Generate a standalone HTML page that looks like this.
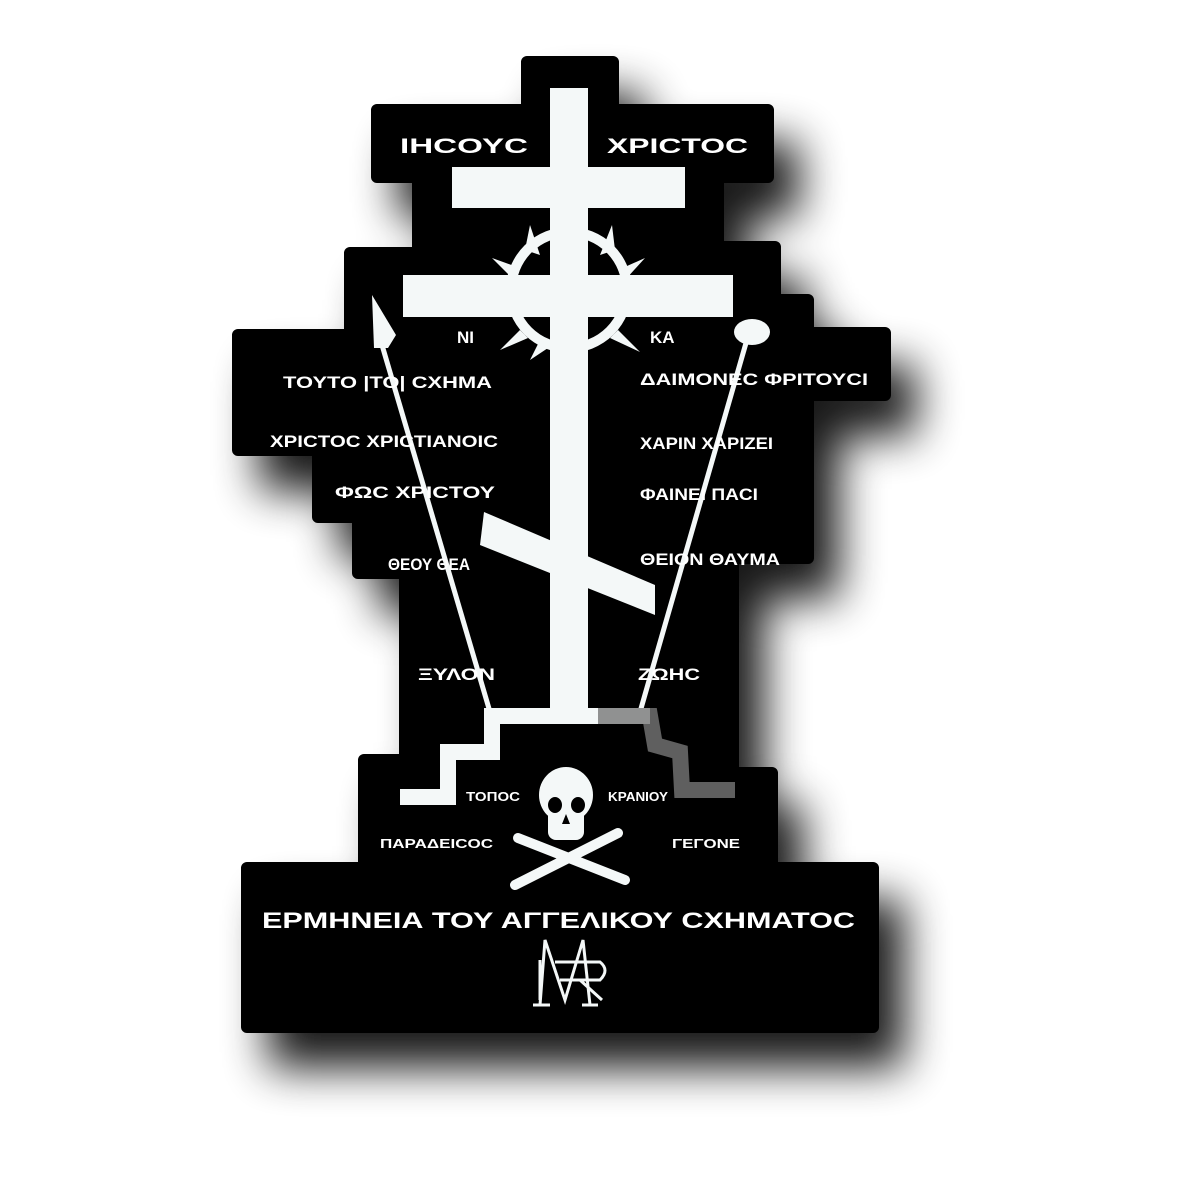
<!DOCTYPE html>
<html><head><meta charset="utf-8"><style>
html,body{margin:0;padding:0;background:#fff;}
svg{display:block}
text{font-family:"Liberation Sans","DejaVu Sans",sans-serif;fill:#fff;font-weight:bold;}
</style></head><body>
<svg width="1200" height="1200" viewBox="0 0 1200 1200" xmlns="http://www.w3.org/2000/svg">
<defs>
<filter id="sh" x="-30%" y="-30%" width="160%" height="160%">
<feGaussianBlur stdDeviation="22"/>
</filter>
<path id="shape" d="M527,62 H613 V110 H768 V177 H718 V247 H775 V300 H808 V333 H885 V395 H808 V558 H733 V773 H772 V868 H873 V1027 H247 V868 H364 V760 H405 V573 H358 V517 H318 V450 H238 V335 H350 V253 H418 V177 H377 V110 H527 Z"/>
</defs>
<g transform="translate(26,36)" filter="url(#sh)" opacity="0.9">
<use href="#shape" fill="#000" stroke="#000" stroke-width="10" stroke-linejoin="round"/>
</g>
<use href="#shape" fill="#000" stroke="#000" stroke-width="12" stroke-linejoin="round"/>

<!-- cross -->
<g fill="#f4f8f8">
<rect x="550" y="88" width="38" height="624"/>
<rect x="452" y="167" width="233" height="41"/>
<rect x="403" y="275" width="330" height="42"/>
<polygon points="484,512 655,585 655,615 480,545"/>
</g>
<!-- crown of thorns -->
<g stroke="#f4f8f8" fill="none" stroke-width="10">
<circle cx="569" cy="290" r="58"/>
</g>
<g fill="#f4f8f8">
<polygon points="530,225 540,255 525,250"/>
<polygon points="612,225 600,255 615,250"/>
<polygon points="492,258 520,268 512,278"/>
<polygon points="645,258 618,270 625,280"/>
<polygon points="500,350 520,330 528,338"/>
<polygon points="640,352 618,330 610,338"/>
<polygon points="530,360 540,340 548,348"/>
</g>
<!-- spear and sponge -->
<polygon points="372,295 396,335 388,348 374,348" fill="#f4f8f8"/>
<line x1="382" y1="345" x2="490" y2="712" stroke="#f4f8f8" stroke-width="5"/>
<ellipse cx="752" cy="332" rx="18" ry="13" fill="#f4f8f8"/>
<line x1="746" y1="343" x2="640" y2="712" stroke="#f4f8f8" stroke-width="5"/>
<!-- steps -->
<polyline points="650,716 492,716 492,752 448,752 448,797 400,797" fill="none" stroke="#f4f8f8" stroke-width="16"/>
<polyline points="598,716 650,716 655,745 680,752 682,790 735,790" fill="none" stroke="#777" stroke-width="16" opacity="0.8"/>

<!-- skull -->
<g fill="#f4f8f8">
<ellipse cx="566" cy="795" rx="27" ry="28"/>
<rect x="548" y="808" width="36" height="32" rx="8"/>
<line x1="515" y1="885" x2="618" y2="833" stroke="#f4f8f8" stroke-width="10" stroke-linecap="round"/>
<line x1="518" y1="838" x2="625" y2="880" stroke="#f4f8f8" stroke-width="10" stroke-linecap="round"/>
</g>
<g fill="#000">
<ellipse cx="555" cy="805" rx="7" ry="8"/>
<ellipse cx="578" cy="805" rx="7" ry="8"/>
<polygon points="566,814 562,824 570,824"/>
</g>

<!-- texts -->
<g font-size="21">
<text x="400" y="153" textLength="128" lengthAdjust="spacingAndGlyphs">ΙΗCΟΥC</text>
<text x="607" y="153" textLength="141" lengthAdjust="spacingAndGlyphs">ΧΡΙCΤΟC</text>
</g>
<g font-size="17">
<text x="457" y="343">ΝΙ</text>
<text x="650" y="343">ΚΑ</text>
<text x="283" y="388" textLength="209" lengthAdjust="spacingAndGlyphs">ΤΟΥΤΟ |ΤΟ| CΧΗΜΑ</text>
<text x="640" y="385" textLength="228" lengthAdjust="spacingAndGlyphs">ΔΑΙΜΟΝΕC ΦΡΙΤΟΥCΙ</text>
<text x="270" y="447" textLength="228" lengthAdjust="spacingAndGlyphs">ΧΡΙCΤΟC ΧΡΙCΤΙΑΝΟΙC</text>
<text x="640" y="449" textLength="133" lengthAdjust="spacingAndGlyphs">ΧΑΡΙΝ ΧΑΡΙΖΕΙ</text>
<text x="335" y="498" textLength="160" lengthAdjust="spacingAndGlyphs">ΦΩC ΧΡΙCΤΟΥ</text>
<text x="640" y="500" textLength="118" lengthAdjust="spacingAndGlyphs">ΦΑΙΝΕΙ ΠΑCΙ</text>
<text x="388" y="570" textLength="82" lengthAdjust="spacingAndGlyphs">ΘΕΟΥ ΘΕΑ</text>
<text x="640" y="565" textLength="140" lengthAdjust="spacingAndGlyphs">ΘΕΙΟΝ ΘΑΥΜΑ</text>
<text x="418" y="680" textLength="77" lengthAdjust="spacingAndGlyphs">ΞΥΛΟΝ</text>
<text x="638" y="680" textLength="62" lengthAdjust="spacingAndGlyphs">ΖΩΗC</text>
</g>
<g font-size="13">
<text x="466" y="801" textLength="54" lengthAdjust="spacingAndGlyphs">ΤΟΠΟC</text>
<text x="608" y="801" textLength="60" lengthAdjust="spacingAndGlyphs">ΚΡΑΝΙΟΥ</text>
<text x="380" y="848" textLength="113" lengthAdjust="spacingAndGlyphs">ΠΑΡΑΔΕΙCΟC</text>
<text x="672" y="848" textLength="68" lengthAdjust="spacingAndGlyphs">ΓΕΓΟΝΕ</text>
</g>
<text x="262" y="928" font-size="22" textLength="593" lengthAdjust="spacingAndGlyphs">ΕΡΜΗΝΕΙΑ  ΤΟΥ  ΑΓΓΕΛΙΚΟΥ  CΧΗΜΑΤΟC</text>
<!-- monogram -->
<g stroke="#f4f8f8" stroke-width="3" fill="none">
<polyline points="540,1005 545,940 565,1000 583,940 590,1005"/>
<line x1="540" y1="960" x2="540" y2="1000"/>
<path d="M555,962 H600 Q610,970 600,980 H560"/>
<line x1="580" y1="980" x2="602" y2="1000"/>
<line x1="533" y1="1005" x2="550" y2="1005"/>
<line x1="582" y1="1005" x2="598" y2="1005"/>
</g>
</svg>
</body></html>
